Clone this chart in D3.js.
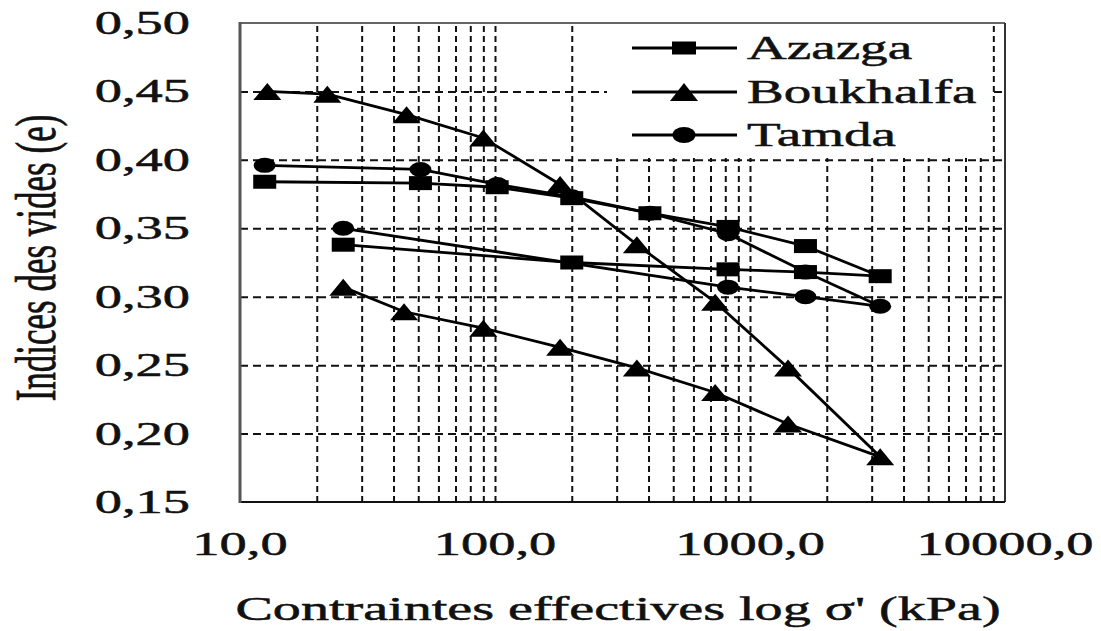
<!DOCTYPE html>
<html>
<head>
<meta charset="utf-8">
<script src="https://cdn.jsdelivr.net/npm/d3@7"></script>
<style>
  body { margin: 0; background: #fff; }
  text { font-family: "Liberation Serif", "Times New Roman", serif; fill: #111; stroke: #111; stroke-width: 0.5; }
</style>
</head>
<body>
<div id="chart"></div>
<script>
// data (sigma' in kPa, void ratio e)
// each series = loading branch then unloading branch
const seriesNames = ["Azazga", "Boukhalfa", "Tamda"];
const sigmaAzazga = [12.5, 51, 102, 200, 405, 820, 1650, 3240, 1650, 820, 200, 25.4];
const eAzazga = [0.384, 0.383, 0.380, 0.372, 0.361, 0.351, 0.337, 0.315, 0.318, 0.320, 0.325, 0.338];
const sigmaBoukhalfa = [12.8, 22, 45, 90, 180, 360, 730, 1410, 3240, 1410, 730, 360, 180, 90, 44, 25.4];
const eBoukhalfa = [0.450, 0.448, 0.433, 0.416, 0.382, 0.338, 0.296, 0.248, 0.183, 0.207, 0.230, 0.248, 0.263, 0.277, 0.289, 0.307];
const sigmaTamda = [12.5, 51, 102, 200, 405, 820, 1650, 3240, 1650, 820, 25.4];
const eTamda = [0.396, 0.393, 0.382, 0.373, 0.361, 0.346, 0.318, 0.293, 0.300, 0.307, 0.350];

const yTicks = [0.15, 0.20, 0.25, 0.30, 0.35, 0.40, 0.45, 0.50];
const xTicks = [10, 100, 1000, 10000];
const xTitle = "Contraintes effectives log σ' (kPa)";
const yTitle = "Indices des vides (e)";

// layout
const WIDTH = 1101;
const HEIGHT = 631;
const LEFT = 240, RIGHT = 1005, TOP = 23, BOTTOM = 502;
const SX = 1.65; // the picture is stretched sideways, so is the text

const svg = d3.select("#chart")
    .append("svg")
    .attr("width", WIDTH)
    .attr("height", HEIGHT);

const xScale = d3.scaleLog()
    .domain([10, 10000])
    .range([LEFT, RIGHT]);

const yScale = d3.scaleLinear()
    .domain([0.15, 0.50])
    .range([BOTTOM, TOP]);

const fmtY = d => d.toFixed(2).replace(".", ",");
const fmtX = d => d.toFixed(1).replace(".", ",");

// helper for sideways-stretched text
function stretchText(x, y, str, anchor, size, sx) {
    return svg.append("text")
        .attr("transform", `translate(${x},${y}) scale(${sx},1)`)
        .attr("text-anchor", anchor)
        .attr("font-size", size)
        .text(str);
}

// grid: vertical lines at every log minor step, horizontal at inner y ticks
const vGrid = xScale.ticks().filter(v => v > 10 && v < 10000);
const hGrid = yTicks.filter(v => v > 0.15 && v < 0.50);

const xGrid = svg.append("g")
    .attr("transform", `translate(0, ${BOTTOM})`)
    .call(d3.axisBottom(xScale).tickValues(vGrid).tickSize(-(BOTTOM - TOP)).tickFormat(""));
xGrid.select(".domain").remove();
xGrid.selectAll("line")
    .attr("stroke", "#111")
    .attr("stroke-width", 2)
    .attr("stroke-dasharray", "6,4");

const yGrid = svg.append("g")
    .attr("transform", `translate(${LEFT}, 0)`)
    .call(d3.axisLeft(yScale).tickValues(hGrid).tickSize(-(RIGHT - LEFT)).tickFormat(""));
yGrid.select(".domain").remove();
yGrid.selectAll("line")
    .attr("stroke", "#111")
    .attr("stroke-width", 2)
    .attr("stroke-dasharray", "8,5");

// legend background hides the grid in the top right corner
svg.append("rect")
    .attr("x", 607)
    .attr("y", TOP + 2)
    .attr("width", 383)
    .attr("height", 133)
    .attr("fill", "#fff");

// frame
svg.append("line").attr("x1", LEFT).attr("x2", RIGHT).attr("y1", TOP).attr("y2", TOP)
    .attr("stroke", "#666").attr("stroke-width", 2);
svg.append("line").attr("x1", RIGHT).attr("x2", RIGHT).attr("y1", TOP).attr("y2", BOTTOM)
    .attr("stroke", "#333").attr("stroke-width", 2);
svg.append("line").attr("x1", LEFT).attr("x2", RIGHT).attr("y1", BOTTOM).attr("y2", BOTTOM)
    .attr("stroke", "#111").attr("stroke-width", 2);
svg.append("line").attr("x1", LEFT).attr("x2", LEFT).attr("y1", TOP - 1).attr("y2", BOTTOM + 1)
    .attr("stroke", "#555").attr("stroke-width", 3);

// tick labels
yTicks.forEach(v => {
    stretchText(190, yScale(v) + 11, fmtY(v), "end", 33, SX);
});
xTicks.forEach(v => {
    stretchText(xScale(v), 555, fmtX(v), "middle", 33, SX);
});

// axis titles
stretchText(618, 620, xTitle, "middle", 33, 1.7);
svg.append("text")
    .attr("transform", `translate(55, 258) rotate(-90) scale(1, 1.6)`)
    .attr("text-anchor", "middle")
    .attr("font-size", 35)
    .text(yTitle);

// markers
function drawMarker(g, kind, cx, cy, big) {
    if (kind === "square") {
        const w = big ? 23 : 24, h = big ? 14 : 13;
        g.append("rect")
            .attr("x", cx - w / 2).attr("y", cy - h / 2)
            .attr("width", w).attr("height", h)
            .attr("fill", "#000");
    } else if (kind === "triangle") {
        const w = 28, h = big ? 17 : 18;
        g.append("path")
            .attr("d", `M${cx - w / 2},${cy + h / 2} L${cx},${cy - h / 2} L${cx + w / 2},${cy + h / 2} Z`)
            .attr("fill", "#000");
    } else {
        g.append("ellipse")
            .attr("cx", cx).attr("cy", cy)
            .attr("rx", big ? 11 : 11.5).attr("ry", big ? 7.5 : 8)
            .attr("fill", "#000");
    }
}

const series = [
    { name: seriesNames[0], sigma: sigmaAzazga, e: eAzazga, marker: "square" },
    { name: seriesNames[1], sigma: sigmaBoukhalfa, e: eBoukhalfa, marker: "triangle" },
    { name: seriesNames[2], sigma: sigmaTamda, e: eTamda, marker: "circle" }
];

const line = d3.line()
    .x(d => xScale(d[0]))
    .y(d => yScale(d[1]));

series.forEach(s => {
    const pts = s.sigma.map((v, i) => [v, s.e[i]]);
    const g = svg.append("g");
    g.append("path")
        .datum(pts)
        .attr("fill", "none")
        .attr("stroke", "#000")
        .attr("stroke-width", 2.8)
        .attr("d", line);
    pts.forEach(p => drawMarker(g, s.marker, xScale(p[0]), yScale(p[1]), true));
});

// legend
const legendRows = [48, 92, 135];
series.forEach((s, i) => {
    const ly = legendRows[i];
    const g = svg.append("g");
    g.append("line")
        .attr("x1", 632).attr("x2", 737)
        .attr("y1", ly).attr("y2", ly)
        .attr("stroke", "#000").attr("stroke-width", 2.8);
    drawMarker(g, s.marker, 684, ly, false);
    stretchText(747, ly + 11, s.name, "start", 34, 1.62);
});
</script>
</body>
</html>
